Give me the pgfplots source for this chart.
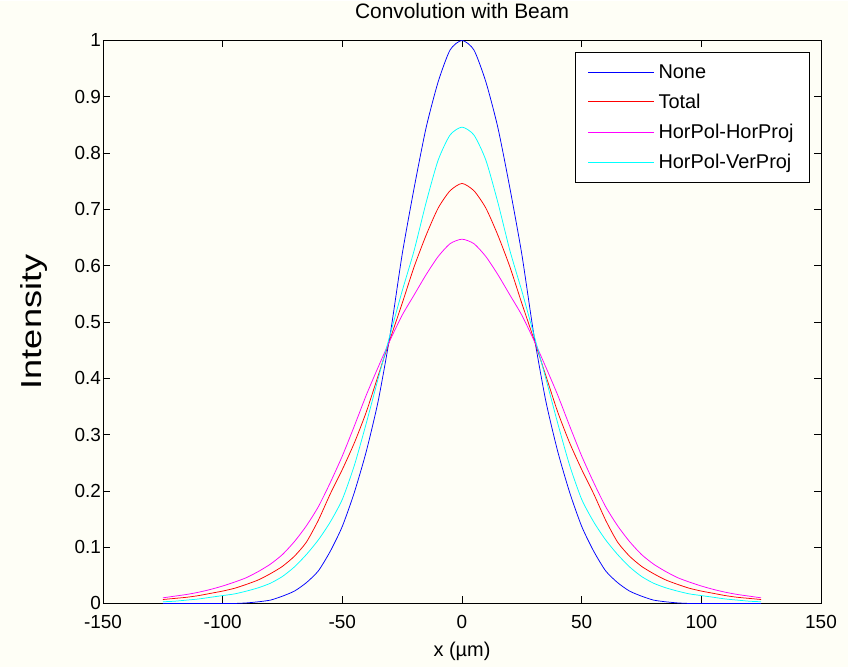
\documentclass[border=0pt]{standalone}
\usepackage{fontspec}
\setmainfont{Liberation Sans}
\newfontfamily\widefont[FakeStretch=1.25]{Liberation Sans}
\usepackage{pgfplots}
\pgfplotsset{compat=1.18}
\usepackage{pgfplotstable}

\definecolor{figbg}{RGB}{254,254,246}
\definecolor{mblue}{RGB}{0,0,255}
\definecolor{mred}{RGB}{255,0,0}
\definecolor{mmag}{RGB}{255,0,255}
\definecolor{mcyan}{RGB}{0,255,255}

% x, None, Total, HorPol-HorProj, HorPol-VerProj
\pgfplotstableread{
x     none   total  hh     hv
-125  0.000  0.007  0.010  0.003
-120  0.000  0.009  0.013  0.004
-115  0.000  0.011  0.016  0.006
-110  0.000  0.014  0.020  0.008
-105  0.000  0.018  0.025  0.011
-100  0.000  0.022  0.031  0.014
-95   0.000  0.027  0.038  0.017
-90   0.001  0.034  0.046  0.022
-85   0.003  0.042  0.057  0.028
-80   0.006  0.053  0.070  0.036
-75   0.013  0.066  0.087  0.048
-70   0.022  0.084  0.110  0.065
-65   0.037  0.109  0.138  0.087
-60   0.058  0.148  0.172  0.113
-55   0.093  0.195  0.215  0.145
-50   0.137  0.238  0.262  0.185
-45   0.197  0.285  0.315  0.245
-40   0.270  0.340  0.370  0.320
-35   0.360  0.405  0.420  0.400
-30   0.478  0.470  0.468  0.478
-25   0.620  0.533  0.512  0.555
-20   0.738  0.598  0.548  0.627
-15   0.845  0.654  0.584  0.712
-10   0.926  0.702  0.616  0.787
-5    0.983  0.733  0.639  0.832
0     1.000  0.746  0.647  0.846
5     0.983  0.733  0.639  0.832
10    0.926  0.702  0.616  0.787
15    0.845  0.654  0.584  0.712
20    0.738  0.598  0.548  0.627
25    0.620  0.533  0.512  0.555
30    0.478  0.470  0.468  0.478
35    0.360  0.405  0.420  0.400
40    0.270  0.340  0.370  0.320
45    0.197  0.285  0.315  0.245
50    0.137  0.238  0.262  0.185
55    0.093  0.195  0.215  0.145
60    0.058  0.148  0.172  0.113
65    0.037  0.109  0.138  0.087
70    0.022  0.084  0.110  0.065
75    0.013  0.066  0.087  0.048
80    0.006  0.053  0.070  0.036
85    0.003  0.042  0.057  0.028
90    0.001  0.034  0.046  0.022
95    0.000  0.027  0.038  0.017
100   0.000  0.022  0.031  0.014
105   0.000  0.018  0.025  0.011
110   0.000  0.014  0.020  0.008
115   0.000  0.011  0.016  0.006
120   0.000  0.009  0.013  0.004
125   0.000  0.007  0.010  0.003
}\beam

\begin{document}
\begin{tikzpicture}
\fill[figbg] (-103bp,-63.5bp) rectangle (745bp,602.5bp);
\begin{axis}[
  at={(0,0)}, anchor=south west,
  scale only axis,
  width=718bp, height=563bp,
  xmin=-150, xmax=150, ymin=0, ymax=1,
  xtick={-150,-100,...,150},
  ytick={0,0.1,...,1},
  tick align=inside,
  major tick length=7bp,
  axis line style={line width=0.8bp},
  every tick/.style={black, line width=0.6bp},
  /pgf/number format/assume math mode=true,
  tick label style={font=\fontsize{19}{22}\selectfont},
  xticklabel style={yshift=-8bp},
  yticklabel style={xshift=1.5bp},
  title={Convolution with Beam},
  title style={font=\fontsize{21}{24}\selectfont, anchor=base, at={(axis description cs:0.5,1)}, yshift=16bp},
  xlabel={x (µm)},
  xlabel style={font=\fontsize{20}{24}\selectfont, anchor=base, at={(axis description cs:0.5,0)}, yshift=-53.5bp},
  ylabel={\widefont Intensity},
  ylabel style={font=\fontsize{29}{32}\selectfont, anchor=center, at={(axis description cs:-0.096,0.5)}},
  legend cell align=left,
  legend image code/.code={\draw[#1] (0bp,0bp) -- (66bp,0bp);},
  legend style={at={(axis description cs:0.9847,0.9796)}, anchor=north east,
    draw=black, line width=0.8bp, fill=white,
    font=\fontsize{20}{24}\selectfont,
    inner xsep=12bp, inner ysep=8bp, row sep=6.3bp,
    nodes={inner sep=4bp, line width=0.8bp}},
  every axis plot/.append style={line width=0.75bp, smooth, tension=0.4},
]
\addplot[mblue, no markers] table[x=x, y=none] {\beam};
\addlegendentry{None}
\addplot[mred, no markers] table[x=x, y=total] {\beam};
\addlegendentry{Total}
\addplot[mmag, no markers] table[x=x, y=hh] {\beam};
\addlegendentry{HorPol-HorProj}
\addplot[mcyan, no markers] table[x=x, y=hv] {\beam};
\addlegendentry{HorPol-VerProj}
\end{axis}
\end{tikzpicture}
\end{document}
